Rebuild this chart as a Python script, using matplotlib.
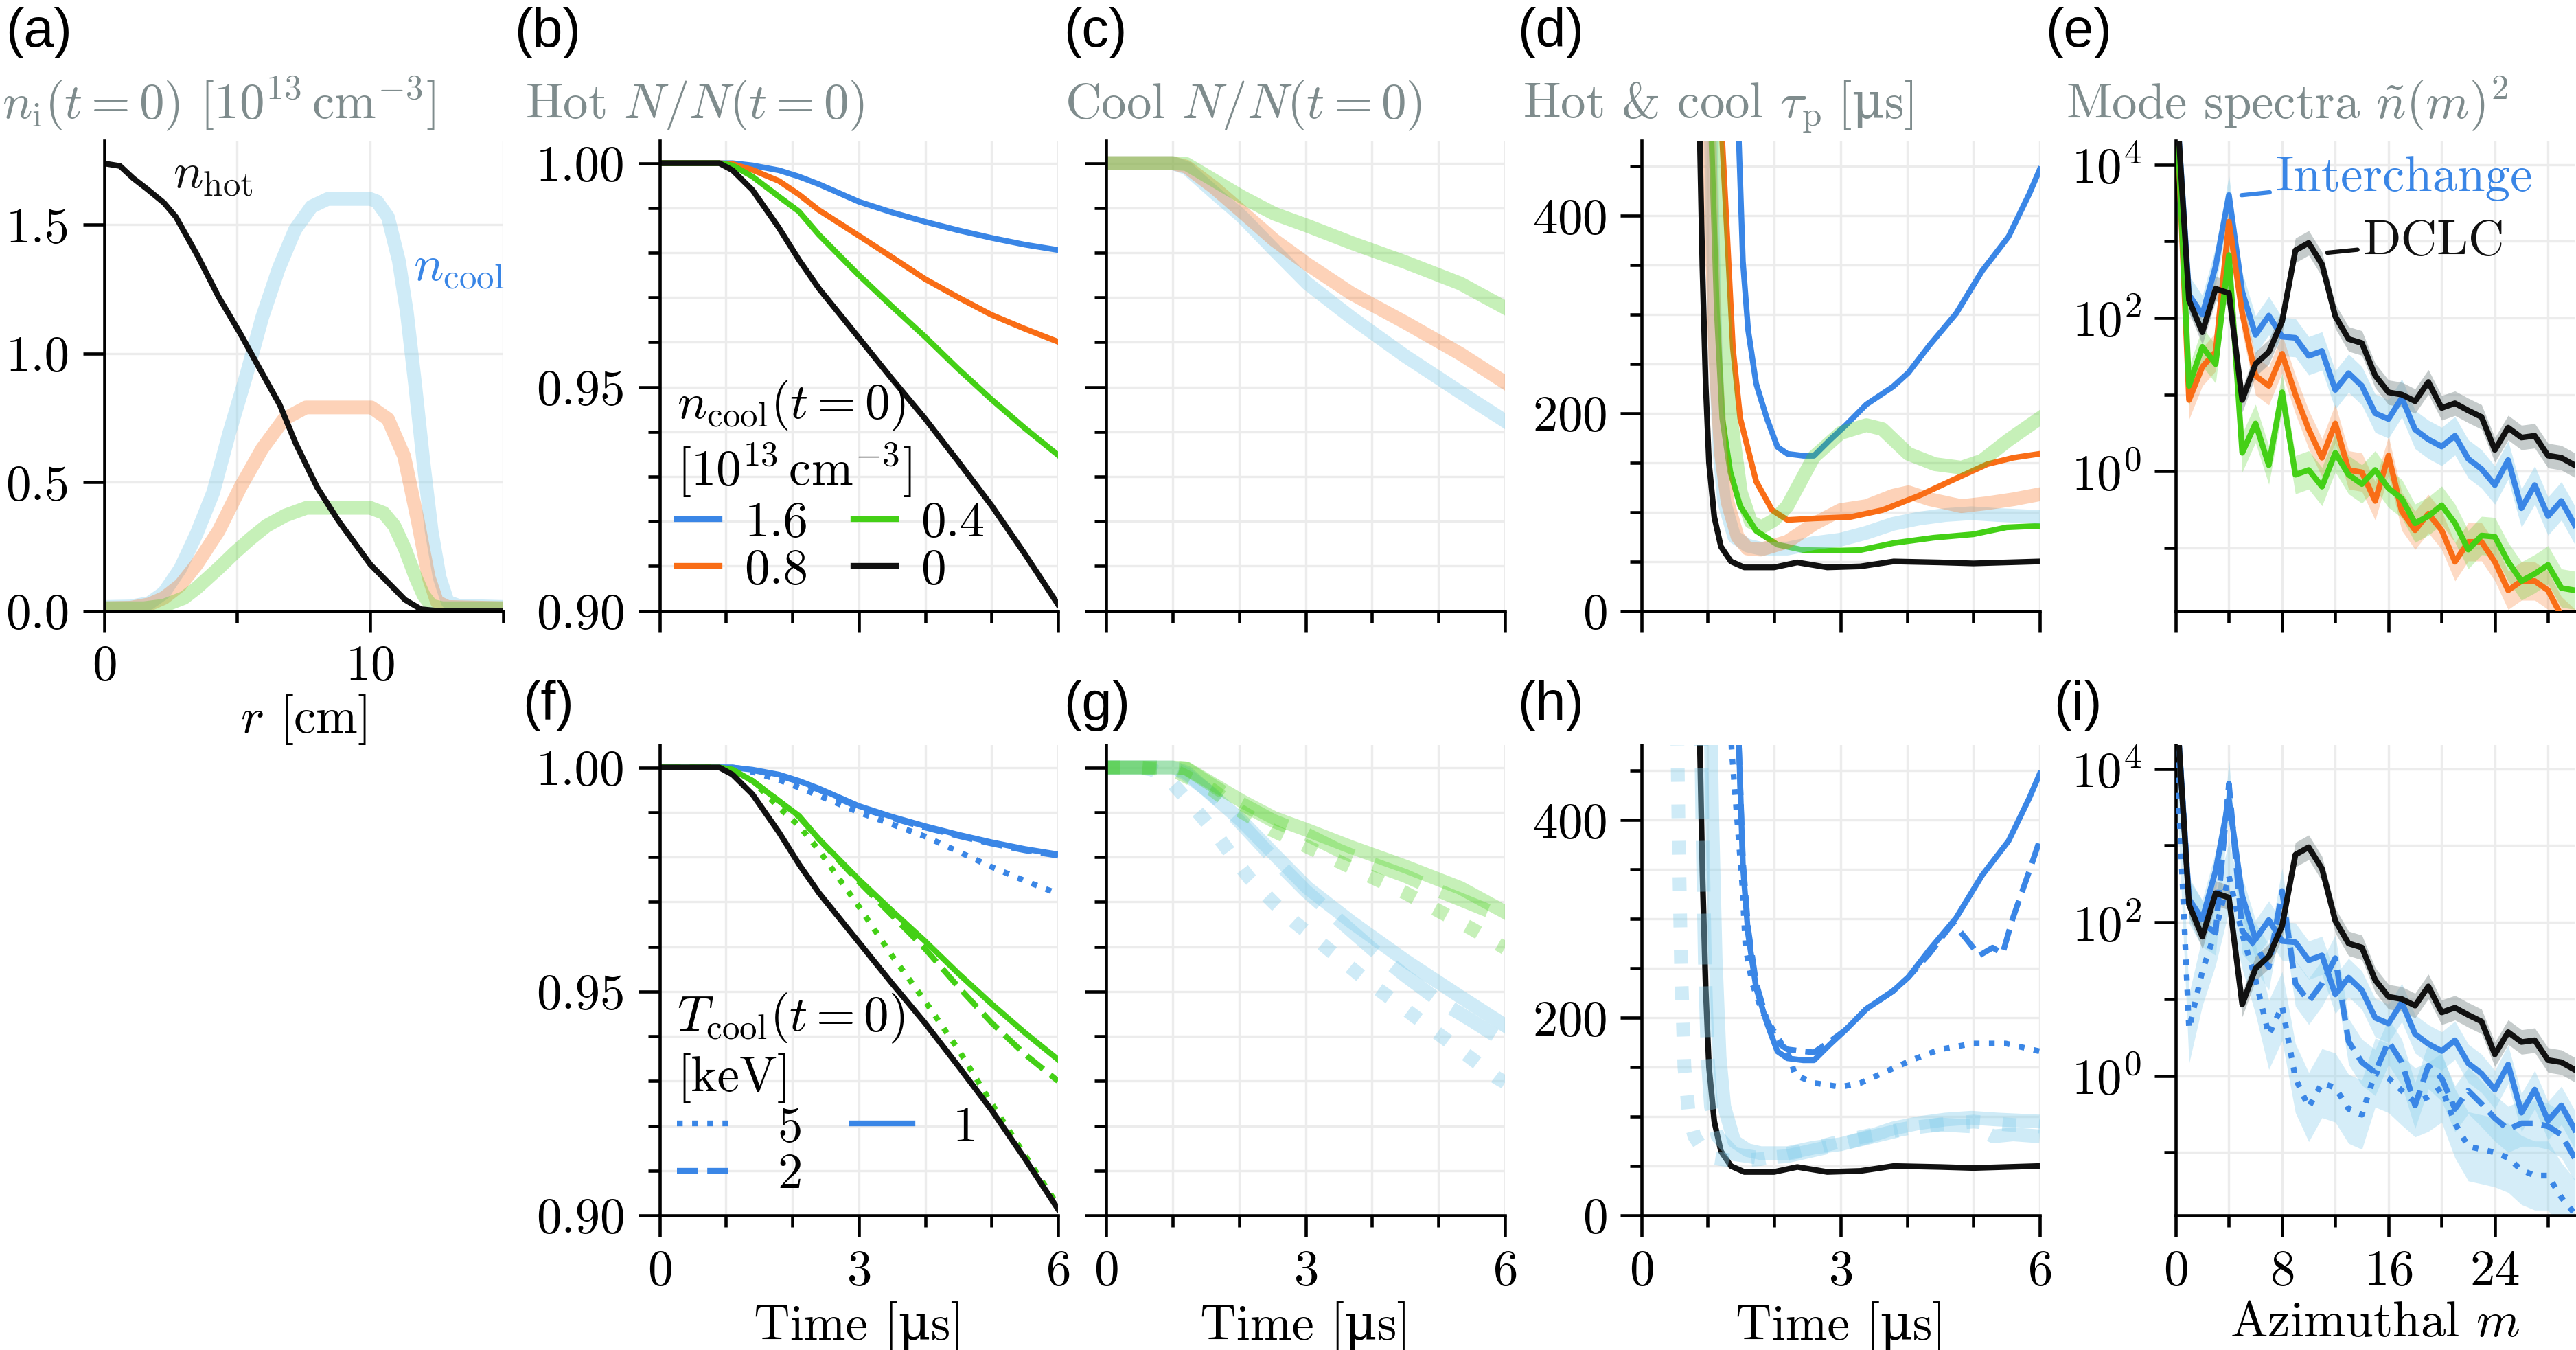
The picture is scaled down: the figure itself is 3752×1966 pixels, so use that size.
import matplotlib
matplotlib.use('Agg')
import matplotlib.pyplot as plt
from matplotlib.ticker import MultipleLocator, FixedLocator, NullFormatter, FormatStrFormatter, LogFormatterSciNotation
import numpy as np

# ---- data ----
# (a) radial profiles
r_hot = [0, 0.6, 1.1, 1.6, 2.25, 2.7, 3.5, 4.3, 5.1, 5.9, 6.6, 7.2, 8.0, 8.8, 10.0, 11.3, 11.9, 12.5, 15]
n_hot = [1.738, 1.728, 1.68, 1.64, 1.585, 1.53, 1.382, 1.22, 1.08, 0.93, 0.80, 0.65, 0.48, 0.35, 0.18, 0.043, 0.006, 0.0, 0.0]
r_cool_16 = [0, 1.0, 1.7, 2.25, 2.87, 3.48, 4.1, 4.7, 5.33, 5.94, 6.56, 7.17, 7.79, 8.4, 10.0, 10.25, 10.66,
             11.07, 11.37, 11.68, 11.99, 12.3, 12.6, 12.9, 13.3, 15]
n_cool_16 = [0.015, 0.017, 0.03, 0.07, 0.165, 0.30, 0.46, 0.69, 0.91, 1.14, 1.33, 1.48, 1.57, 1.6, 1.6, 1.59, 1.53,
             1.36, 1.16, 0.88, 0.58, 0.31, 0.13, 0.035, 0.02, 0.015]
r_cool_08 = [0, 1.0, 1.7, 2.25, 2.87, 3.48, 4.3, 5.12, 5.94, 6.76, 7.58, 10.04, 10.66, 11.27, 11.78, 12.19, 12.5, 12.9, 15]
n_cool_08 = [0.01, 0.012, 0.025, 0.05, 0.1, 0.18, 0.31, 0.48, 0.63, 0.745, 0.79, 0.79, 0.745, 0.6, 0.35, 0.13, 0.035, 0.015, 0.01]
r_cool_04 = [0, 1.5, 2.25, 3.0, 3.5, 4.3, 4.9, 5.5, 6.1, 6.8, 7.6, 10.0, 10.5, 10.9, 11.3, 11.7, 12.0, 12.3, 12.7, 15]
n_cool_04 = [0.01, 0.01, 0.02, 0.05, 0.09, 0.165, 0.225, 0.28, 0.33, 0.37, 0.40, 0.40, 0.38, 0.33, 0.24, 0.13, 0.06, 0.02, 0.01, 0.01]

# (b),(f) hot N/N0
t_hot = [0, 0.5, 0.9, 1.1, 1.4, 1.8, 2.1, 2.4, 3.0, 3.5, 4.0, 4.5, 5.0, 5.5, 6.0]
hotN_16 = [1, 1, 1, 1.0, 0.9995, 0.9984, 0.997, 0.9953, 0.9914, 0.989, 0.9869, 0.985, 0.9833, 0.9818, 0.9806]
hotN_08 = [1, 1, 1, 0.9998, 0.9985, 0.996, 0.993, 0.9895, 0.9838, 0.979, 0.9741, 0.970, 0.9661, 0.963, 0.9601]
hotN_04 = [1, 1, 1, 0.9995, 0.997, 0.9925, 0.9892, 0.984, 0.975, 0.968, 0.9612, 0.954, 0.9472, 0.9408, 0.9348]
hotN_0 = [1, 1, 1.0, 0.9984, 0.994, 0.9855, 0.9784, 0.972, 0.961, 0.9518, 0.9429, 0.9333, 0.9235, 0.9127, 0.9014]
hotN_16_T5 = [1, 1, 1, 0.9998, 0.999, 0.9972, 0.9955, 0.9937, 0.990, 0.9873, 0.9846, 0.9812, 0.9778, 0.9747, 0.9718]
hotN_16_T2 = [1, 1, 1, 1.0, 0.9994, 0.9982, 0.9968, 0.995, 0.9911, 0.9887, 0.9866, 0.9847, 0.983, 0.9815, 0.9803]
hotN_04_T5 = [1, 1, 1, 0.9992, 0.997, 0.991, 0.987, 0.9815, 0.969, 0.958, 0.9478, 0.937, 0.925, 0.9135, 0.9022]
hotN_04_T2 = [1, 1, 1, 0.9995, 0.997, 0.9925, 0.989, 0.984, 0.9745, 0.967, 0.9595, 0.951, 0.943, 0.936, 0.930]

# (c),(g) cool N/N0
t_cool = [0, 0.5, 1.0, 1.21, 1.62, 2.04, 2.53, 3.03, 3.69, 4.5, 5.33, 6.0]
coolN_16 = [1, 1, 1, 0.9989, 0.9935, 0.9881, 0.9806, 0.9731, 0.9655, 0.9569, 0.9488, 0.9424]
coolN_08 = [1, 1, 1, 0.9992, 0.9946, 0.9892, 0.9828, 0.9774, 0.9709, 0.9644, 0.9574, 0.951]
coolN_04 = [1, 1, 1, 0.9998, 0.9962, 0.9925, 0.9887, 0.986, 0.9822, 0.9779, 0.9731, 0.9677]
t_cool_T5 = [0, 0.5, 0.7, 0.96, 1.28, 1.61, 1.88, 2.16, 2.52, 2.85, 3.23, 3.6, 3.97, 4.34, 4.71, 5.12, 5.48, 5.88, 6.0]
coolN_16_T5 = [1, 1, 0.9995, 0.9971, 0.9918, 0.986, 0.9806, 0.9752, 0.9698, 0.9653, 0.9608, 0.9563, 0.9518, 0.9478,
               0.9437, 0.9392, 0.9352, 0.9307, 0.9297]
t_cool_T2 = [0, 0.5, 1.0, 1.2, 1.6, 2.0, 2.5, 3.0, 3.5, 4.0, 4.5, 5.0, 5.5, 6.0]
coolN_16_T2 = [1, 1, 1, 0.9985, 0.994, 0.988, 0.980, 0.9725, 0.966, 0.9595, 0.9535, 0.948, 0.9435, 0.9388]
coolN_04_T2 = [1, 1, 1, 0.9998, 0.996, 0.9922, 0.9882, 0.9852, 0.9815, 0.9785, 0.9758, 0.9725, 0.9695, 0.9665]
coolN_04_T5 = [1, 1, 0.9995, 0.998, 0.995, 0.9905, 0.986, 0.9825, 0.979, 0.9755, 0.972, 0.968, 0.964, 0.9597]

# (d),(h) confinement time tau_p [us]
t_tau_0 = [0.87, 0.92, 0.97, 1.02, 1.1, 1.2, 1.35, 1.55, 2.0, 2.35, 2.8, 3.3, 3.8, 4.5, 5.0, 6.0]
tau_0 = [520, 350, 230, 150, 95, 65, 50, 44, 44, 49, 44, 45, 50, 49, 48, 50]
t_tau_04 = [1.0, 1.07, 1.14, 1.22, 1.34, 1.49, 1.73, 2.05, 2.44, 3.0, 3.3, 3.8, 4.4, 5.0, 5.5, 6.0]
tau_04 = [600, 450, 300, 195, 141, 106, 81, 67, 61.5, 61, 61.5, 68.6, 74, 77.5, 84.5, 86]
t_tau_08 = [1.15, 1.22, 1.3, 1.38, 1.49, 1.73, 1.97, 2.2, 2.6, 3.15, 3.63, 4.18, 4.74, 5.21, 5.6, 6.0]
tau_08 = [600, 476, 372, 266, 195, 131, 102, 92, 93.5, 95, 102, 116.5, 134, 148.5, 155, 159]
t_tau_16 = [1.42, 1.47, 1.53, 1.61, 1.73, 1.89, 2.05, 2.2, 2.44, 2.6, 2.84, 3.08, 3.39, 3.79, 4.02, 4.34, 4.74,
            5.13, 5.53, 5.84, 6.0]
tau_16 = [600, 476, 354, 284, 230, 195, 166, 159, 157, 157, 173, 188, 209, 227, 241, 269, 301, 344, 379, 422, 447]
t_tau_cool_04 = [1.08, 1.15, 1.22, 1.34, 1.5, 1.65, 1.81, 2.0, 2.2, 2.6, 3.0, 3.39, 3.63, 4.02, 4.42, 4.82, 5.13, 5.53, 6.0]
tau_cool_04 = [600, 450, 330, 200, 120, 90, 84.5, 92, 106, 156, 180, 188, 184, 159, 148.5, 145, 152, 173, 195]
t_tau_cool_08 = [1.0, 1.05, 1.12, 1.2, 1.3, 1.45, 1.6, 1.8, 2.2, 2.6, 3.0, 3.39, 3.79, 4.02, 4.34, 4.82, 5.21, 5.61, 6.0]
tau_cool_08 = [600, 400, 250, 160, 110, 75, 63, 62, 70, 88, 102, 106, 116.5, 120, 113, 106, 109, 113, 118]
t_tau_cool_16 = [1.02, 1.07, 1.12, 1.18, 1.25, 1.4, 1.6, 1.8, 2.2, 2.6, 3.0, 3.39, 3.79, 4.18, 4.58, 4.97, 5.37, 6.0]
tau_cool_16 = [600, 400, 260, 160, 110, 75, 66, 63, 63, 68.6, 72, 79, 88, 93.4, 97, 98.8, 97, 95]
t_tau_16_T2 = [1.42, 1.47, 1.53, 1.61, 1.73, 1.89, 2.05, 2.2, 2.44, 2.6, 2.84, 3.08, 3.39, 3.79, 4.02, 4.34, 4.69,
               4.89, 5.09, 5.29, 5.44, 5.59, 5.84, 6.0]
tau_16_T2 = [600, 476, 360, 290, 235, 198, 175, 168, 166, 165, 176, 188, 209, 227, 241, 265, 296, 280, 263, 271,
             265, 300, 348, 380]
t_tau_16_T5 = [1.3, 1.36, 1.52, 1.57, 1.67, 1.82, 2.22, 2.32, 2.61, 3.0, 3.3, 3.7, 4.1, 4.5, 5.0, 5.49, 6.0]
tau_16_T5 = [600, 472, 335, 271, 235, 206, 162, 142, 134, 130, 134, 146, 158, 168, 174, 174, 166]
t_tau_cool_16_T2 = [0.88, 0.92, 0.96, 1.0, 1.05, 1.15, 1.4, 1.8, 2.2, 2.6, 3.0, 3.5, 4.0, 4.5, 5.0, 5.3, 5.6, 6.0]
tau_cool_16_T2 = [600, 400, 250, 160, 110, 80, 62, 58, 60, 66, 72, 80, 88, 92, 90, 80, 82, 80]
t_tau_cool_16_T5 = [0.52, 0.56, 0.6, 0.65, 0.72, 0.8, 0.95, 1.1, 1.4, 1.8, 2.2, 2.6, 3.0, 3.5, 4.0, 4.5, 5.0, 5.5, 6.0]
tau_cool_16_T5 = [600, 400, 250, 150, 100, 80, 65, 58, 55, 57, 62, 68, 75, 82, 88, 92, 95, 92, 90]

# (e),(i) mode spectra
m_modes = list(range(31))
spec_0 = [1e5, 170, 65, 240, 210, 8.5, 25, 36, 90, 760, 950, 500, 105, 53, 47, 17.7, 10.7, 10, 8.2, 14.6, 6.7, 7.7,
          6.2, 5.1, 1.9, 3.7, 2.75, 2.9, 1.6, 1.5, 1.2]
spec_16 = [1e5, 200, 110, 470, 4000, 220, 60, 107, 57, 55, 32, 37, 11.5, 19, 13, 5.7, 4.8, 9, 3.5, 2.6, 2.1, 2.9,
           1.45, 1.07, 0.66, 1.4, 0.33, 0.66, 0.26, 0.41, 0.2]
spec_08 = [1e5, 8.5, 23, 36, 1800, 115, 17.6, 13, 34, 10, 3.5, 1.5, 4.2, 1.04, 0.97, 0.41, 1.6, 0.3, 0.17, 0.28, 0.17,
           0.066, 0.12, 0.12, 0.066, 0.028, 0.037, 0.037, 0.028, 0.013, 0.009]
spec_04 = [1e5, 13, 42, 25, 660, 1.74, 4.2, 1.2, 10.7, 0.9, 1.04, 0.63, 1.74, 0.9, 0.68, 1.04, 0.6, 0.44, 0.21, 0.26,
           0.36, 0.21, 0.095, 0.145, 0.14, 0.066, 0.037, 0.046, 0.06, 0.03, 0.028]
spec_16_T2 = [1e5, 194, 95, 74, 6400, 77, 49, 26, 255, 16, 9.3, 16, 34, 2.8, 1.5, 1.1, 2.8, 1.5, 0.41, 1.35, 0.93,
              0.37, 0.64, 0.43, 0.28, 0.2, 0.24, 0.24, 0.22, 0.17, 0.085]
spec_16_T5 = [3e4, 4.1, 23, 78, 400, 70, 18, 3.4, 8.1, 0.93, 0.39, 0.8, 0.7, 0.37, 0.31, 1.1, 0.93, 0.64, 0.45, 0.53,
              0.7, 0.24, 0.12, 0.11, 0.1, 0.085, 0.059, 0.05, 0.05, 0.026, 0.016]
# half widths of the shaded spread, in decades
band_0, band_16, band_08, band_04 = 0.16, 0.25, 0.25, 0.25
band_16_T2, band_16_T5 = 0.3, 0.45

ncool_labels = ['1.6', '0.8', '0.4', '0']
tcool_labels = ['5', '2', '1']

# ---- style ----
BLUE = '#3a86e6'
ORANGE = '#f96d16'
GREEN = '#44d016'
BLACK = '#111111'
SKY = '#87ceeb'
GRAY = '#7f8c8d'

plt.rcParams['font.family'] = ['cmr10', 'DejaVu Serif']
plt.rcParams['mathtext.fontset'] = 'cm'
plt.rcParams['axes.formatter.use_mathtext'] = True
plt.rcParams['font.size'] = 17.5
plt.rcParams['axes.unicode_minus'] = False

W, H = 3752, 1966
fig = plt.figure(figsize=(W / 300, H / 300), dpi=300)

cols = [(151.5, 733.4), (960.6, 1541), (1611, 2192), (2390.5, 2971), (3169, 3750)]
rows = [(205, 889.5), (1085, 1770)]


def make_ax(ci, ri):
    x0, x1 = cols[ci]
    yt, yb = rows[ri]
    ax = fig.add_axes([x0 / W, 1 - yb / H, (x1 - x0) / W, (yb - yt) / H])
    for s in ['top', 'right']:
        ax.spines[s].set_visible(False)
    for s in ['left', 'bottom']:
        ax.spines[s].set_linewidth(1.1)
    ax.tick_params(which='major', direction='out', length=7.5, width=1.1, pad=4.5)
    ax.tick_params(which='minor', direction='out', length=4.0, width=1.1)
    ax.grid(True, which='both', color='#ececec', lw=0.8, zorder=0)
    ax.set_axisbelow(True)
    return ax


def time_axis(ax, labels):
    ax.set_xlim(0, 6)
    ax.xaxis.set_major_locator(MultipleLocator(3))
    ax.xaxis.set_minor_locator(MultipleLocator(1))
    if labels:
        ax.set_xlabel('Time [μs]', labelpad=2.5)
    else:
        ax.tick_params(axis='x', labelbottom=False)


def frac_axis(ax, labels):
    ax.set_ylim(0.9, 1.005)
    ax.yaxis.set_major_locator(FixedLocator([0.90, 0.95, 1.00]))
    ax.yaxis.set_minor_locator(MultipleLocator(0.01))
    ax.yaxis.set_major_formatter(FormatStrFormatter('%.2f'))
    if not labels:
        ax.tick_params(axis='y', labelleft=False)


def tau_axis(ax):
    ax.set_ylim(0, 476)
    ax.yaxis.set_major_locator(MultipleLocator(200))
    ax.yaxis.set_minor_locator(MultipleLocator(50))


def spec_axis(ax, labels):
    ax.set_yscale('log')
    ax.set_ylim(10 ** -1.82, 10 ** 4.31)
    ax.yaxis.set_major_locator(FixedLocator([1e-2, 1e0, 1e2, 1e4]))
    ax.yaxis.set_minor_locator(FixedLocator([1e-1, 1e1, 1e3]))
    ax.yaxis.set_major_formatter(LogFormatterSciNotation())
    ax.yaxis.set_minor_formatter(NullFormatter())
    ax.set_xlim(0, 30)
    ax.xaxis.set_major_locator(MultipleLocator(8))
    ax.xaxis.set_minor_locator(MultipleLocator(4))
    if labels:
        ax.set_xlabel('Azimuthal $m$', labelpad=2.5)
    else:
        ax.tick_params(axis='x', labelbottom=False)


def spectrum(ax, vals, band, color, bandcolor, balpha, ls='-'):
    v = np.array(vals)
    ax.fill_between(m_modes, v * 10 ** (-band), v * 10 ** band, color=bandcolor,
                    alpha=balpha, lw=0, zorder=2)
    ax.plot(m_modes, v, color=color, lw=2.0, ls=ls, zorder=3)


# (a)
ax = make_ax(0, 0)
ax.plot(r_cool_16, n_cool_16, color=SKY, alpha=0.4, lw=4.8)
ax.plot(r_cool_08, n_cool_08, color=ORANGE, alpha=0.3, lw=4.8)
ax.plot(r_cool_04, n_cool_04, color=GREEN, alpha=0.3, lw=4.8)
ax.plot(r_hot, n_hot, color=BLACK, lw=2.0)
ax.set_xlim(0, 15)
ax.set_ylim(0, 1.826)
ax.xaxis.set_major_locator(MultipleLocator(10))
ax.xaxis.set_minor_locator(MultipleLocator(5))
ax.yaxis.set_major_locator(MultipleLocator(0.5))
ax.yaxis.set_major_formatter(FormatStrFormatter('%.1f'))
ax.set_xlabel('$r$ [cm]', labelpad=1)
ax.text(2.6, 1.69, r'$n_\mathrm{hot}$', color=BLACK, va='center', ha='left')
ax.text(11.6, 1.33, r'$n_\mathrm{cool}$', color=BLUE, va='center', ha='left')

# (b)
ax = make_ax(1, 0)
hb = []
for vals, c in [(hotN_16, BLUE), (hotN_08, ORANGE), (hotN_04, GREEN), (hotN_0, BLACK)]:
    hb += ax.plot(t_hot, vals, color=c, lw=2.0)
time_axis(ax, False)
frac_axis(ax, True)
ax.legend(hb, ncool_labels, ncol=2, frameon=False, loc='lower left',
          title=r'$n_\mathrm{cool}(t=0)$' + '\n' + r'$[10^{13}\,\mathrm{cm}^{-3}]$',
          alignment='left', handlelength=0.85, handletextpad=0.5, columnspacing=0.9,
          labelspacing=0.05, borderaxespad=0.15, borderpad=0.2,
          title_fontsize=17.5)

# (c)
ax = make_ax(2, 0)
ax.plot(t_cool, coolN_16, color=SKY, alpha=0.4, lw=4.8)
ax.plot(t_cool, coolN_08, color=ORANGE, alpha=0.3, lw=4.8)
ax.plot(t_cool, coolN_04, color=GREEN, alpha=0.3, lw=4.8)
time_axis(ax, False)
frac_axis(ax, False)

# (d)
ax = make_ax(3, 0)
ax.plot(t_tau_16, tau_16, color=BLUE, lw=2.0)
ax.plot(t_tau_08, tau_08, color=ORANGE, lw=2.0)
ax.plot(t_tau_04, tau_04, color=GREEN, lw=2.0)
ax.plot(t_tau_0, tau_0, color=BLACK, lw=2.0)
ax.plot(t_tau_cool_16, tau_cool_16, color=SKY, alpha=0.4, lw=4.8)
ax.plot(t_tau_cool_08, tau_cool_08, color=ORANGE, alpha=0.3, lw=4.8)
ax.plot(t_tau_cool_04, tau_cool_04, color=GREEN, alpha=0.3, lw=4.8)
time_axis(ax, False)
tau_axis(ax)

# (e)
ax = make_ax(4, 0)
spectrum(ax, spec_16, band_16, BLUE, SKY, 0.4)
spectrum(ax, spec_08, band_08, ORANGE, ORANGE, 0.25)
spectrum(ax, spec_04, band_04, GREEN, GREEN, 0.25)
spectrum(ax, spec_0, band_0, BLACK, GRAY, 0.45)
spec_axis(ax, False)
ax.annotate('Interchange', xy=(4.95, 10 ** 3.6), xytext=(7.5, 10 ** 3.82), color=BLUE,
            va='center', ha='left', arrowprops=dict(arrowstyle='-', color=BLUE, lw=1.5,
                                                    shrinkA=0, shrinkB=0))
ax.annotate('DCLC', xy=(11.4, 10 ** 2.85), xytext=(14.1, 10 ** 2.99), color=BLACK,
            va='center', ha='left', arrowprops=dict(arrowstyle='-', color=BLACK, lw=1.5,
                                                    shrinkA=0, shrinkB=0))

# (f)
ax = make_ax(1, 1)
hf = []
hf += ax.plot(t_hot, hotN_16_T5, color=BLUE, lw=2.0, ls=':')
hf += ax.plot(t_hot, hotN_16_T2, color=BLUE, lw=2.0, ls='--')
hf += ax.plot(t_hot, hotN_16, color=BLUE, lw=2.0, ls='-')
ax.plot(t_hot, hotN_04_T5, color=GREEN, lw=2.0, ls=':')
ax.plot(t_hot, hotN_04_T2, color=GREEN, lw=2.0, ls='--')
ax.plot(t_hot, hotN_04, color=GREEN, lw=2.0, ls='-')
ax.plot(t_hot, hotN_0, color=BLACK, lw=2.0)
time_axis(ax, True)
frac_axis(ax, True)
ax.legend(hf, tcool_labels, ncol=2, frameon=False, loc='lower left',
          title=r'$T_\mathrm{cool}(t=0)$' + '\n' + '[keV]',
          alignment='left', handlelength=1.2, handletextpad=0.8, columnspacing=1.0,
          labelspacing=0.05, borderaxespad=0.15, borderpad=0.2,
          title_fontsize=17.5)

# (g)
ax = make_ax(2, 1)
ax.plot(t_cool_T5, coolN_16_T5, color=SKY, alpha=0.4, lw=4.8, ls=':')
ax.plot(t_cool_T2, coolN_16_T2, color=SKY, alpha=0.4, lw=4.8, ls='--')
ax.plot(t_cool, coolN_16, color=SKY, alpha=0.4, lw=4.8)
ax.plot(t_cool_T2, coolN_04_T5, color=GREEN, alpha=0.3, lw=4.8, ls=':')
ax.plot(t_cool_T2, coolN_04_T2, color=GREEN, alpha=0.3, lw=4.8, ls='--')
ax.plot(t_cool, coolN_04, color=GREEN, alpha=0.3, lw=4.8)
time_axis(ax, True)
frac_axis(ax, False)

# (h)
ax = make_ax(3, 1)
ax.plot(t_tau_16_T5, tau_16_T5, color=BLUE, lw=2.0, ls=':')
ax.plot(t_tau_16_T2, tau_16_T2, color=BLUE, lw=2.0, ls='--')
ax.plot(t_tau_16, tau_16, color=BLUE, lw=2.0)
ax.plot(t_tau_0, tau_0, color=BLACK, lw=2.0)
ax.plot(t_tau_cool_16_T5, tau_cool_16_T5, color=SKY, alpha=0.4, lw=4.8, ls=':')
ax.plot(t_tau_cool_16_T2, tau_cool_16_T2, color=SKY, alpha=0.4, lw=4.8, ls='--')
ax.plot(t_tau_cool_16, tau_cool_16, color=SKY, alpha=0.4, lw=4.8)
time_axis(ax, True)
tau_axis(ax)

# (i)
ax = make_ax(4, 1)
spectrum(ax, spec_16_T5, band_16_T5, BLUE, SKY, 0.35, ls=':')
spectrum(ax, spec_16_T2, band_16_T2, BLUE, SKY, 0.35, ls='--')
spectrum(ax, spec_16, band_16, BLUE, SKY, 0.35)
spectrum(ax, spec_0, band_0, BLACK, GRAY, 0.45)
spec_axis(ax, True)

# panel letters and titles
letters = [('(a)', 8, 10), ('(b)', 749, 10), ('(c)', 1549, 10), ('(d)', 2210, 10), ('(e)', 2979, 10),
           ('(f)', 761, 990), ('(g)', 1549, 990), ('(h)', 2210, 990), ('(i)', 2991, 990)]
for s, x, y in letters:
    fig.text(x / W, 1 - y / H, s, family='Liberation Sans', fontsize=19, va='top', ha='left')

titles = [(r'$n_\mathrm{i}(t=0)$ $[10^{13}\,\mathrm{cm}^{-3}]$', 3),
          (r'Hot $N/N(t=0)$', 765),
          (r'Cool $N/N(t=0)$', 1551),
          (r'Hot & cool $\tau_\mathrm{p}$', 2218),
          (r'Mode spectra $\tilde{n}(m)^2$', 3009)]
ty = 1 - 172 / H
renderer = fig.canvas.get_renderer()
for s, x in titles:
    t = fig.text(x / W, ty, s, color=GRAY, fontsize=17.5, va='baseline', ha='left')
    if 'tau' in s:
        # unit written as plain text so the micro sign falls back to a font that has it
        bb = t.get_window_extent(renderer=renderer)
        fig.text(bb.x1 / W, ty, ' [μs]', color=GRAY, fontsize=17.5, va='baseline', ha='left')

fig.savefig('out.png', dpi=300)
